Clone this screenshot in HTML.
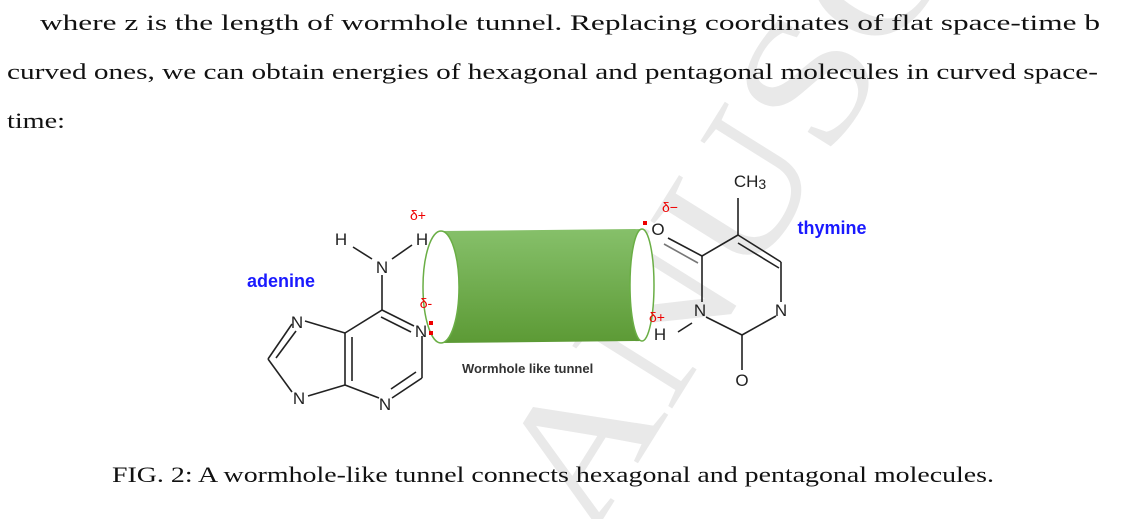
<!DOCTYPE html>
<html><head><meta charset="utf-8"><style>
html,body{margin:0;padding:0;background:#fff;width:1136px;height:519px;overflow:hidden;}
svg{display:block;overflow:hidden;}
</style></head><body>
<svg width="1136" height="519" viewBox="0 0 1136 519" xmlns="http://www.w3.org/2000/svg">
<defs>
<linearGradient id="g" x1="0" y1="0" x2="0" y2="1">
<stop offset="0" stop-color="#86c06a"/><stop offset="1" stop-color="#5c9a35"/>
</linearGradient>
</defs>
<!-- watermark -->
<text x="0" y="0" transform="translate(590,540) rotate(-58)" font-family="Liberation Serif, serif" font-size="180" fill="#e9e9e9" textLength="700" lengthAdjust="spacingAndGlyphs">ANUSC</text>

<g font-family="Liberation Serif, serif" font-size="22" fill="#111">
<text x="40" y="30" textLength="1060" lengthAdjust="spacingAndGlyphs">where z is the length of wormhole tunnel.  Replacing coordinates of flat space-time b</text>
<text x="7" y="79" textLength="1091" lengthAdjust="spacingAndGlyphs">curved ones, we can obtain energies of hexagonal and pentagonal molecules in curved space-</text>
<text x="7" y="128" textLength="58" lengthAdjust="spacingAndGlyphs">time:</text>
<text x="112" y="482" textLength="882" lengthAdjust="spacingAndGlyphs">FIG. 2: A wormhole-like tunnel connects hexagonal and pentagonal molecules.</text>
</g>

<!-- cylinder -->
<path d="M441,231 L642,229 A12,56 0 0 1 642,341 L441,343 Z" fill="url(#g)"/>
<ellipse cx="441" cy="287" rx="18" ry="56" fill="#fff" stroke="#6aae45" stroke-width="1.5"/>
<ellipse cx="642" cy="285" rx="12" ry="56" fill="#fff" stroke="#6aae45" stroke-width="1.5"/>
<text x="462" y="373" font-family="Liberation Sans, sans-serif" font-weight="bold" font-size="13" fill="#333">Wormhole like tunnel</text>

<!-- adenine -->
<g stroke="#222" stroke-width="1.6" fill="none">
<line x1="353" y1="247" x2="372" y2="259"/>
<line x1="392" y1="259" x2="412" y2="245"/>
<line x1="382" y1="275" x2="382" y2="310"/>
<line x1="382" y1="310" x2="414" y2="326"/>
<line x1="381" y1="317" x2="411" y2="332"/>
<line x1="382" y1="310" x2="345" y2="333"/>
<line x1="422" y1="336" x2="422" y2="378"/>
<line x1="422" y1="378" x2="392" y2="398"/>
<line x1="416" y1="372" x2="391" y2="389"/>
<line x1="379" y1="398" x2="345" y2="385"/>
<line x1="345" y1="333" x2="345" y2="385"/>
<line x1="352" y1="337" x2="352" y2="381"/>
<line x1="345" y1="333" x2="305" y2="321"/>
<line x1="345" y1="385" x2="308" y2="396"/>
<line x1="292" y1="324" x2="268" y2="359"/>
<line x1="296" y1="331" x2="276" y2="358"/>
<line x1="268" y1="359" x2="292" y2="392"/>
</g>
<g font-family="Liberation Sans, sans-serif" font-size="17" fill="#222" text-anchor="middle">
<text x="341" y="245">H</text><text x="422" y="245">H</text>
<text x="382" y="273">N</text>
<text x="421" y="337">N</text>
<text x="385" y="410">N</text>
<text x="297" y="328">N</text>
<text x="299" y="404">N</text>
</g>
<text x="281" y="287" font-family="Liberation Sans, sans-serif" font-weight="bold" font-size="18" fill="#1a1aff" text-anchor="middle">adenine</text>
<text x="418" y="220" font-family="Liberation Sans, sans-serif" font-size="14" fill="#e00" text-anchor="middle">δ+</text>
<text x="426" y="308" font-family="Liberation Sans, sans-serif" font-size="14" fill="#e00" text-anchor="middle">δ-</text>
<rect x="429" y="321" width="4" height="4" fill="#e00"/><rect x="429" y="331" width="4" height="4" fill="#e00"/>

<!-- thymine -->
<g stroke="#222" stroke-width="1.6" fill="none">
<line x1="738" y1="198" x2="738" y2="235"/>
<line x1="738" y1="235" x2="702" y2="256"/>
<line x1="738" y1="235" x2="781" y2="262"/>
<line x1="738" y1="243" x2="779" y2="268"/>
<line x1="781" y1="262" x2="781" y2="302"/>
<line x1="776" y1="316" x2="742" y2="335"/>
<line x1="742" y1="335" x2="706" y2="317"/>
<line x1="702" y1="256" x2="702" y2="302"/>
<line x1="702" y1="256" x2="668" y2="238"/>
<line x1="698" y1="263" x2="664" y2="244" stroke="#777"/>
<line x1="742" y1="335" x2="742" y2="370"/>
<line x1="678" y1="332" x2="692" y2="323"/>
</g>
<g font-family="Liberation Sans, sans-serif" font-size="17" fill="#222" text-anchor="middle">
<text x="750" y="187">CH<tspan font-size="14" dy="2">3</tspan></text>
<text x="658" y="235">O</text>
<text x="700" y="316">N</text>
<text x="781" y="316">N</text>
<text x="742" y="386">O</text>
<text x="660" y="340">H</text>
</g>
<text x="832" y="234" font-family="Liberation Sans, sans-serif" font-weight="bold" font-size="18" fill="#1a1aff" text-anchor="middle">thymine</text>
<text x="670" y="212" font-family="Liberation Sans, sans-serif" font-size="14" fill="#e00" text-anchor="middle">δ−</text>
<text x="657" y="322" font-family="Liberation Sans, sans-serif" font-size="14" fill="#e00" text-anchor="middle">δ+</text>
<rect x="643" y="221" width="4" height="4" fill="#e00"/>
</svg>
</body></html>
